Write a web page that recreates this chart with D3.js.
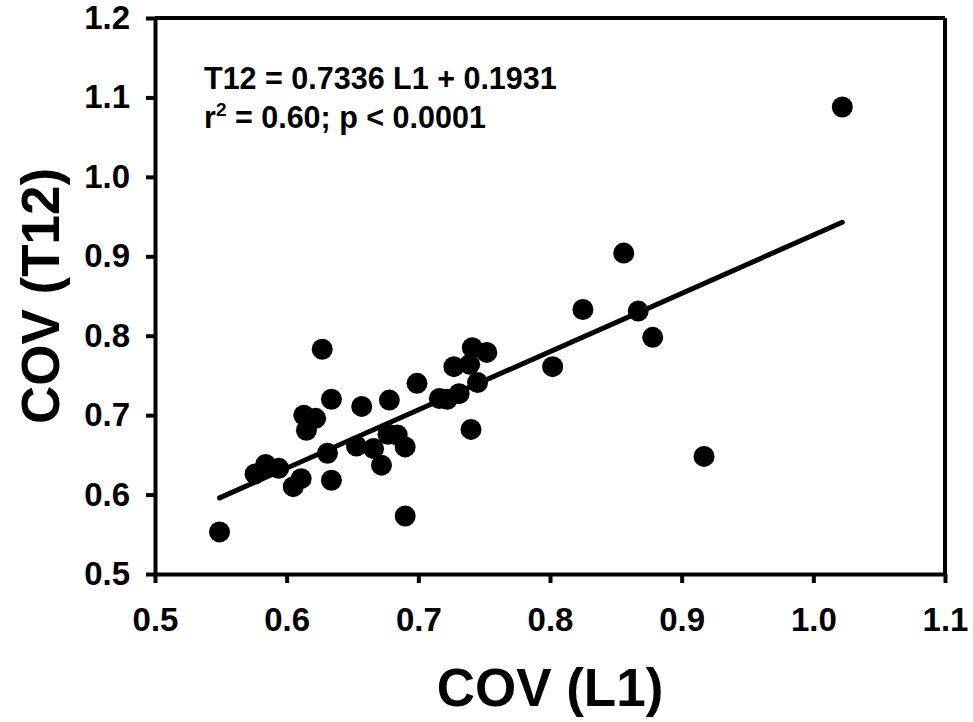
<!DOCTYPE html>
<html>
<head>
<meta charset="utf-8">
<script src="https://cdn.jsdelivr.net/npm/d3@7"></script>
<style>
  html, body { margin: 0; padding: 0; background: #fff; }
  svg { display: block; }
  text { font-family: "Liberation Sans", Arial, sans-serif; font-weight: bold; fill: #000; }
</style>
</head>
<body>
<svg id="chart" width="973" height="722"></svg>
<script>
// ---- data ----
const covL1 = [
  0.549, 0.576, 0.584, 0.594, 0.605, 0.611, 0.634, 0.613, 0.622, 0.615,
  0.631, 0.653, 0.666, 0.677, 0.684, 0.690, 0.672, 0.690, 0.627, 0.634,
  0.657, 0.678, 0.699, 0.716, 0.722, 0.731, 0.727, 0.739, 0.741, 0.752,
  0.745, 0.740, 0.802, 0.825, 0.856, 0.867, 0.878, 0.917, 1.022
];
const covT12 = [
  0.553, 0.626, 0.638, 0.633, 0.610, 0.620, 0.618, 0.700, 0.696, 0.681,
  0.652, 0.661, 0.658, 0.676, 0.675, 0.660, 0.637, 0.573, 0.783, 0.720,
  0.711, 0.719, 0.740, 0.721, 0.720, 0.727, 0.761, 0.764, 0.785, 0.779,
  0.741, 0.682, 0.761, 0.833, 0.904, 0.831, 0.798, 0.648, 1.088
];
const xTicks = [0.5, 0.6, 0.7, 0.8, 0.9, 1.0, 1.1];
const yTicks = [0.5, 0.6, 0.7, 0.8, 0.9, 1.0, 1.1, 1.2];
const fitSlope = 0.7336;
const fitIntercept = 0.1931;
const xTitle = "COV (L1)";
const yTitle = "COV (T12)";
const eqLine = "T12 = 0.7336 L1 + 0.1931";

// ---- layout ----
const svg = d3.select("#chart");
const pL = 155, pR = 945, pT = 18, pB = 574;

const x = d3.scaleLinear().domain([0.5, 1.1]).range([pL, pR]);
const y = d3.scaleLinear().domain([0.5, 1.2]).range([pB, pT]);

// frame (top and right)
svg.append("line").attr("x1", pL).attr("x2", pR).attr("y1", pT).attr("y2", pT)
  .attr("stroke", "#000").attr("stroke-width", 4);
svg.append("line").attr("x1", pR).attr("x2", pR).attr("y1", pT).attr("y2", pB)
  .attr("stroke", "#000").attr("stroke-width", 4);

// axes
const xAxis = d3.axisBottom(x).tickValues(xTicks).tickFormat(d3.format(".1f"))
  .tickSizeInner(9).tickSizeOuter(0).tickPadding(25);
const yAxis = d3.axisLeft(y).tickValues(yTicks).tickFormat(d3.format(".1f"))
  .tickSizeInner(9).tickSizeOuter(0).tickPadding(16);

const gx = svg.append("g").attr("transform", `translate(0,${pB})`).call(xAxis);
const gy = svg.append("g").attr("transform", `translate(${pL},0)`).call(yAxis);

[gx, gy].forEach(g => {
  g.select(".domain").attr("stroke", "#000").attr("stroke-width", 4);
  g.selectAll(".tick line").attr("stroke", "#000").attr("stroke-width", 4);
  g.selectAll(".tick text")
    .attr("fill", "#000")
    .style("font-family", '"Liberation Sans", Arial, sans-serif')
    .style("font-weight", "bold")
    .style("font-size", "33px");
});

// regression line
const xMin = d3.min(covL1), xMax = d3.max(covL1);
svg.append("line")
  .attr("x1", x(xMin)).attr("y1", y(fitSlope * xMin + fitIntercept))
  .attr("x2", x(xMax)).attr("y2", y(fitSlope * xMax + fitIntercept))
  .attr("stroke", "#000").attr("stroke-width", 5).attr("stroke-linecap", "round");

// points
svg.append("g").selectAll("circle")
  .data(covL1.map((v, i) => [v, covT12[i]]))
  .join("circle")
  .attr("cx", d => x(d[0]))
  .attr("cy", d => y(d[1]))
  .attr("r", 10.5)
  .attr("fill", "#000");

// annotation
svg.append("text").attr("x", 204).attr("y", 89).style("font-size", "30.5px").text(eqLine);
const t2 = svg.append("text").attr("x", 204).attr("y", 128).style("font-size", "30.5px");
t2.append("tspan").text("r");
t2.append("tspan").attr("dy", -12).style("font-size", "19px").text("2");
t2.append("tspan").attr("dy", 12).text(" = 0.60; p < 0.0001");

// axis titles
svg.append("text").attr("x", (pL + pR) / 2).attr("y", 706)
  .attr("text-anchor", "middle").style("font-size", "53px").text(xTitle);
svg.append("text")
  .attr("transform", `translate(59,${(pT + pB) / 2}) rotate(-90)`)
  .attr("text-anchor", "middle").style("font-size", "53px").text(yTitle);
</script>
</body>
</html>
